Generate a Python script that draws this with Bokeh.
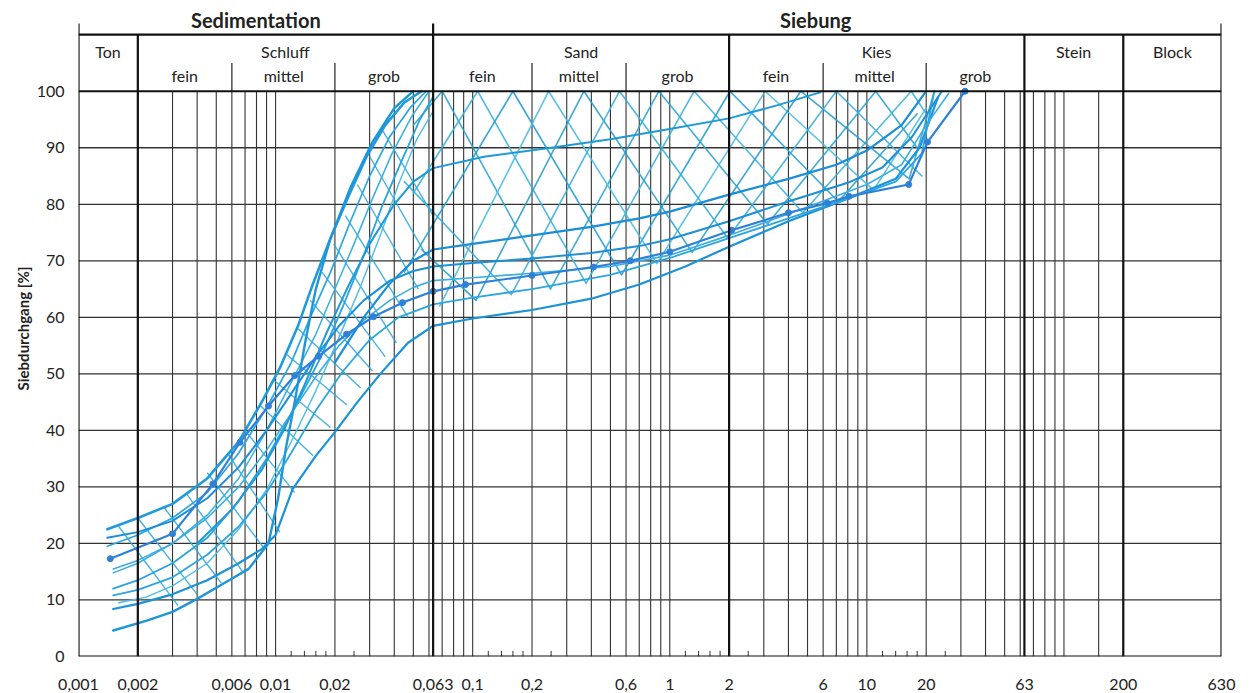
from bokeh.plotting import figure
from bokeh.models import Range1d, FixedTicker, Title
from bokeh.core.properties import value
from bokeh.embed import file_html
from bokeh.resources import INLINE

# ---------------- data ----------------
tick_vals = [0.001, 0.002, 0.006, 0.01, 0.02, 0.063, 0.1, 0.2, 0.6, 1, 2, 6, 10, 20, 63, 200, 630]
tick_labels = ["0,001", "0,002", "0,006", "0,01", "0,02", "0,063", "0,1", "0,2", "0,6", "1", "2", "6", "10", "20", "63", "200", "630"]
y_ticks = [0, 10, 20, 30, 40, 50, 60, 70, 80, 90, 100]
y_title = "Siebdurchgang [%]"

grid_thin_x = [0.003, 0.004, 0.005, 0.006, 0.007, 0.008, 0.009, 0.01,
               0.02, 0.03, 0.04, 0.05, 0.06,
               0.07, 0.08, 0.09, 0.1,
               0.2, 0.3, 0.4, 0.5, 0.6, 0.7, 0.8, 0.9, 1,
               3, 4, 5, 6, 7, 8, 9, 10,
               20, 30, 40, 50, 60,
               70, 80, 90, 100, 150]
grid_thick_x = [0.002, 0.063, 2, 63, 200]
frame_x = [0.001, 630]
minor_tick_x = [0.012, 0.014, 0.016, 0.018, 0.025,
                0.12, 0.14, 0.16, 0.18, 0.25,
                1.2, 1.4, 1.6, 1.8, 2.5,
                12, 14, 16, 18, 25]
grid_y = [10, 20, 30, 40, 50, 60, 70, 80, 90]
header_div_x = [0.006, 0.02, 0.2, 0.6, 6, 20]
header_ext_x = [0.001, 0.063, 630]

group_labels = ["Sedimentation", "Siebung"]
group_x = [0.00794, 5.5]
class_labels = ["Ton", "Schluff", "Sand", "Kies", "Stein", "Block"]
class_x = [0.00141, 0.0112, 0.355, 11.2, 112, 355]
sub_labels = ["fein", "mittel", "grob", "fein", "mittel", "grob", "fein", "mittel", "grob"]
sub_x = [0.00346, 0.011, 0.0355, 0.112, 0.346, 1.095, 3.46, 10.95, 35.5]

# fine (silt) curves
a1_x = [0.0014, 0.002, 0.003, 0.0045, 0.0065, 0.0085, 0.0105, 0.013, 0.0155, 0.019, 0.0235, 0.029, 0.036, 0.045, 0.055]
a1_y = [22.5, 24.5, 27, 31.5, 38, 45, 51, 58.5, 66, 74, 81.5, 88.5, 94, 98, 100]
a2_x = [0.0014, 0.002, 0.003, 0.0045, 0.0065, 0.009, 0.012, 0.015, 0.019, 0.024, 0.03, 0.038, 0.048, 0.058]
a2_y = [19.5, 21.5, 24.5, 29, 36, 44, 52, 60, 68, 77, 85, 92, 97, 100]
a3_x = [0.0015, 0.002, 0.003, 0.0045, 0.0065, 0.009, 0.012, 0.016, 0.02, 0.025, 0.031, 0.039, 0.049, 0.06]
a3_y = [14.8, 16.5, 20, 25, 31.5, 40, 48.5, 57, 65, 73, 81, 89, 95.5, 100]
a4_x = [0.0015, 0.002, 0.003, 0.0045, 0.0065, 0.009, 0.0125, 0.017, 0.022, 0.028, 0.035, 0.044, 0.054, 0.063]
a4_y = [12, 13.5, 16.5, 21, 27.5, 35, 44, 53, 62, 71, 80, 88, 95, 99]
a5_x = [0.0016, 0.0022, 0.003, 0.0045, 0.0065, 0.009, 0.012, 0.016, 0.021, 0.027, 0.034, 0.042, 0.052, 0.063]
a5_y = [9.5, 10.5, 12.5, 16.5, 22.5, 29.5, 38, 47, 56.5, 65.5, 74.5, 83.5, 91.5, 96.5]
a6_x = [0.0015, 0.0022, 0.003, 0.004, 0.0055, 0.0073, 0.0092, 0.0103, 0.0113, 0.0125, 0.0142, 0.016, 0.019, 0.024, 0.031, 0.04, 0.05]
a6_y = [4.6, 6.3, 7.9, 10.2, 13, 15.5, 20, 28, 37, 45, 56, 65, 74, 83, 91, 97, 100]

# mixed (sandy) curves
m1_x = [0.00145, 0.003, 0.0048, 0.0066, 0.0092, 0.0125, 0.0165, 0.0229, 0.0314, 0.044, 0.063, 0.092,
        0.2, 0.41, 0.63, 1.0, 2.06, 4.0, 6.3, 8.1, 16.3, 20.3, 31.5]
m1_y = [17.3, 21.7, 30.5, 37.9, 44.3, 49.7, 53.1, 57, 60.1, 62.6, 64.6, 65.8,
        67.4, 68.9, 70, 71.6, 75.4, 78.5, 80.2, 81.4, 83.5, 91, 100]
s2_x = [0.0015, 0.002, 0.003, 0.0045, 0.0065, 0.0085, 0.01, 0.0122, 0.016, 0.02, 0.026, 0.034, 0.047,
        0.063, 0.1, 0.2, 0.4, 0.7, 1.2, 2, 4, 8, 14, 18.5, 23]
s2_y = [8.4, 9.3, 11, 13.5, 16.5, 19, 21.5, 29.6, 35.5, 39.7, 45, 50, 55.5,
        58.5, 59.8, 61.3, 63.3, 65.8, 69, 72.5, 77, 81, 84.5, 90, 99]
s3_x = [0.0015, 0.002, 0.003, 0.0045, 0.0065, 0.009, 0.012, 0.016, 0.022, 0.03, 0.042, 0.063,
        0.1, 0.2, 0.5, 1, 2, 4, 8, 14, 19, 22]
s3_y = [10.8, 11.8, 14, 18, 23, 29, 36, 43.5, 50.5, 56, 60, 62.3,
        63.5, 65, 67.5, 70.5, 74, 77.5, 81, 84, 89, 100]
s4_x = [0.0014, 0.002, 0.003, 0.0045, 0.0065, 0.009, 0.012, 0.016, 0.021, 0.028, 0.038, 0.05, 0.063,
        0.1, 0.2, 0.4, 0.7, 1, 2, 4, 8, 12, 17, 24]
s4_y = [21, 22, 24, 28, 33.5, 40, 46.5, 53, 58.5, 63, 66.5, 68.2, 69,
        69.6, 70.4, 71.4, 72.6, 73.8, 77, 80.5, 83.8, 86.5, 92, 100]
s5_x = [0.0015, 0.002, 0.003, 0.0045, 0.0065, 0.009, 0.012, 0.016, 0.021, 0.028, 0.038, 0.05, 0.063,
        0.1, 0.2, 0.5, 1, 2, 5, 10, 15, 20, 26]
s5_y = [15.5, 17, 20, 24.5, 30, 36.5, 43, 49.5, 55, 59.5, 63, 65.3, 66.5,
        67, 67.8, 69, 71, 74.5, 79.5, 83.5, 87, 94, 99.6]
s6_x = [0.004, 0.006, 0.0085, 0.011, 0.014, 0.018, 0.023, 0.03, 0.04, 0.05, 0.063,
        0.114, 0.25, 0.5, 1, 2, 3.5, 5.8]
s6_y = [20, 26, 33, 40, 48, 57, 65, 73, 80, 84, 86.4,
        88.4, 90, 91.5, 93.3, 95.2, 97.5, 99.8]
s7_x = [0.02, 0.028, 0.038, 0.05, 0.063, 0.1, 0.2, 0.4, 0.7, 1, 2, 4, 7, 10, 15, 20]
s7_y = [52, 60, 66, 70, 72, 73, 74.5, 76, 77.5, 78.7, 81.7, 84.5, 87, 89.5, 94, 100]

# hatch zigzags (sand / gravel)
z1_x = [0.05, 0.07, 0.248, 0.88, 3.13, 11.1, 18]
z1_y = [94, 100, 65, 100, 76.5, 100, 90]
z2_x = [0.05, 0.106, 0.376, 1.33, 4.73, 16.8, 20]
z2_y = [82, 100, 66, 100, 78.5, 100, 96]
z3_x = [0.045, 0.16, 0.569, 2.02, 7.16, 18]
z3_y = [68, 100, 67.5, 100, 80.5, 96]
z4_x = [0.068, 0.243, 0.86, 3.05, 10.8, 20]
z4_y = [62, 100, 69.5, 100, 82.5, 97]
z5_x = [0.055, 0.104, 0.367, 1.3, 4.62, 16.4, 22]
z5_y = [72, 63, 100, 71.5, 100, 84.5, 100]
z6_x = [0.045, 0.157, 0.556, 1.97, 7.0, 19]
z6_y = [84, 64, 100, 74, 100, 85]

# hatch strokes across the silt band
h_x0 = [0.0016, 0.002, 0.0027, 0.0035, 0.0045, 0.0057, 0.007, 0.0083, 0.0097, 0.0113, 0.013, 0.015, 0.0172, 0.0197, 0.0226, 0.026, 0.03, 0.035]
h_y0 = [23, 24.5, 26.5, 29, 32.5, 36, 40, 44.5, 49, 53.5, 58, 63, 68, 73, 78, 83.5, 88.5, 93]
h_x1 = [0.0032, 0.004, 0.0053, 0.0068, 0.0088, 0.0105, 0.0125, 0.0155, 0.019, 0.023, 0.027, 0.031, 0.036, 0.041, 0.047, 0.053, 0.058, 0.063]
h_y1 = [9, 11, 13, 15, 19, 22, 29, 35.5, 40.5, 44.5, 47.5, 50.5, 53, 55.5, 60, 65, 71, 78]

# ---------------- styles ----------------
FONT = "Lato"
INK = "#222222"
GRID = "#333333"

curves = [
    (a5_x, a5_y, "#4dbde6", 1.4),
    (a4_x, a4_y, "#27a3dd", 1.8),
    (a3_x, a3_y, "#35b0e3", 1.5),
    (a2_x, a2_y, "#2aa6e0", 1.7),
    (a1_x, a1_y, "#1d9bdc", 2.6),
    (a6_x, a6_y, "#1f95da", 2.4),
    (s2_x, s2_y, "#1a93d9", 2.2),
    (s3_x, s3_y, "#2ca6df", 1.8),
    (s4_x, s4_y, "#1c8fd8", 2.0),
    (s5_x, s5_y, "#3aaee2", 1.6),
    (s6_x, s6_y, "#1e9ad9", 2.0),
    (s7_x, s7_y, "#1a8ed6", 2.2),
]
zigzags = [
    (z1_x, z1_y, "#2aa5cf"),
    (z2_x, z2_y, "#3ab2da"),
    (z3_x, z3_y, "#22a0d4"),
    (z4_x, z4_y, "#4bbbe0"),
    (z5_x, z5_y, "#2a9fcc"),
    (z6_x, z6_y, "#38afdc"),
]

W, H = 1245, 692
p = figure(width=W, height=H, x_axis_type="log",
           x_range=Range1d(0.001, 630), y_range=Range1d(0, 116.05),
           min_border_left=78, min_border_right=W - 1221, min_border_top=0, min_border_bottom=H - 658,
           output_backend="svg", toolbar_location=None, title=None)
p.outline_line_color = None
p.xgrid.visible = False
p.ygrid.visible = False
p.background_fill_color = "white"
p.border_fill_color = "white"

# axes
p.xaxis.ticker = FixedTicker(ticks=tick_vals)
p.xaxis.major_label_overrides = {float(v): l for v, l in zip(tick_vals, tick_labels)}
p.yaxis.ticker = FixedTicker(ticks=y_ticks)
for ax in (p.xaxis[0], p.yaxis[0]):
    ax.axis_line_color = None
    ax.major_tick_line_color = None
    ax.minor_tick_line_color = None
    ax.major_label_text_font = FONT
    ax.major_label_text_font_size = "16px"
    ax.major_label_text_color = INK
p.xaxis.major_label_standoff = 16
p.yaxis.major_label_standoff = 8

# y title as a side title
p.add_layout(Title(text=y_title, align="center", standoff=4,
                   text_font=FONT, text_font_style="bold", text_font_size="15px",
                   text_color=INK), "left")

# grid
p.segment(x0=grid_thin_x, y0=0, x1=grid_thin_x, y1=100, line_color=GRID, line_width=1.1)
p.segment(x0=0.001, y0=grid_y, x1=630, y1=grid_y, line_color=GRID, line_width=1.3)
p.segment(x0=minor_tick_x, y0=0, x1=minor_tick_x, y1=1.0, line_color=GRID, line_width=1)
p.segment(x0=header_div_x, y0=100, x1=header_div_x, y1=105, line_color=GRID, line_width=1.3)

# hatching
p.segment(x0=h_x0, y0=h_y0, x1=h_x1, y1=h_y1, line_color="#33aadb", line_width=1.4, line_alpha=0.9)
for zx, zy, c in zigzags:
    p.line(zx, zy, line_color=c, line_width=1.6, line_alpha=0.9, line_join="round", line_cap="round")

# curves
for cx, cy, c, w in curves:
    p.line(cx, cy, line_color=c, line_width=w, line_join="round", line_cap="round")
p.line(m1_x, m1_y, line_color="#2f80d8", line_width=2.2, line_join="round")
p.scatter(m1_x, m1_y, size=6, color="#2f80d8")

# frame / thick lines
p.segment(x0=grid_thick_x, y0=0, x1=grid_thick_x, y1=110, line_color="#111111", line_width=2.2)
p.segment(x0=frame_x, y0=0, x1=frame_x, y1=110, line_color="#111111", line_width=2.2)
p.segment(x0=header_ext_x, y0=110, x1=header_ext_x, y1=112, line_color="#111111", line_width=2.2)
p.segment(x0=0.001, y0=[0, 100, 110], x1=630, y1=[0, 100, 110], line_color="#111111", line_width=2.2)

# header text
p.text(x=group_x, y=[112.6] * len(group_x), text=group_labels, text_font=value(FONT),
       text_font_style="bold", text_font_size="20px", text_color=INK,
       text_align="center", text_baseline="middle")
p.text(x=class_x, y=[107.0] * len(class_x), text=class_labels, text_font=value(FONT),
       text_font_size="16px", text_color=INK, text_align="center", text_baseline="middle")
p.text(x=sub_x, y=[102.7] * len(sub_x), text=sub_labels, text_font=value(FONT),
       text_font_size="16px", text_color=INK, text_align="center", text_baseline="middle")

open("out.html", "w").write(file_html(p, INLINE))
